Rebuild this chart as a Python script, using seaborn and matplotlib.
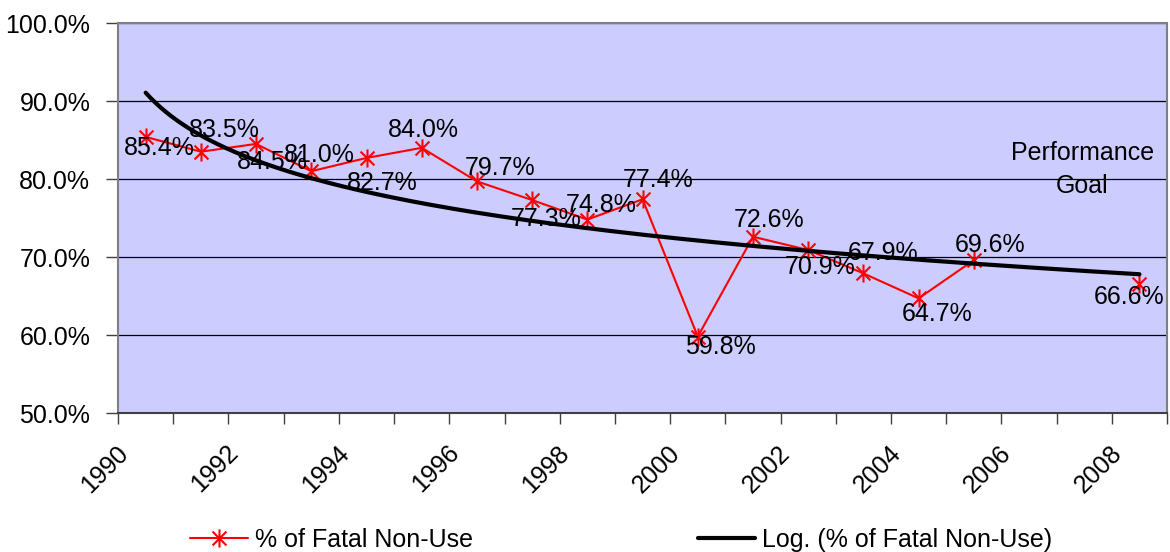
import numpy as np
import pandas as pd
import seaborn as sns
import matplotlib.pyplot as plt
import matplotlib.transforms as mtransforms
from matplotlib.path import Path
from matplotlib.lines import Line2D
from matplotlib.ticker import FixedLocator, PercentFormatter, NullFormatter

# data
years = list(range(1990, 2009))
non_use = [85.4, 83.5, 84.5, 81.0, 82.7, 84.0, 79.7, 77.3, 74.8, 77.4,
           59.8, 72.6, 70.9, 67.9, 64.7, 69.6, None, None, 66.6]
series_name = "% of Fatal Non-Use"
trend_name = "Log. (% of Fatal Non-Use)"
goal_text = "Performance\nGoal"

# where each data label sits relative to its point (pixels, right / down)
label_offsets = [(14, 11), (23, -22), (16, 18), (8, -16), (16, 25), (2, -18),
                 (23, -13), (14, 19), (14, -15), (16, -19), (23, 10), (16, -17),
                 (12, 17), (20, -20), (19, 16), (16, -15), (-10, 13)]

df = pd.DataFrame({"year": years, "pct": non_use})
df["pos"] = np.arange(len(df))
df["seg"] = df["pct"].isna().cumsum()
obs = df.dropna()

# excel style log trendline, x = category number 1..n
b, a = np.polyfit(np.log(obs["pos"] + 1), obs["pct"], 1)
trend = pd.DataFrame({"pos": np.linspace(0, len(years) - 1, 400)})
trend["pct"] = a + b * np.log(trend["pos"] + 1)

sns.set_style("white")
plt.rcParams["font.family"] = ["Liberation Sans", "DejaVu Sans"]
plt.rcParams["text.color"] = "black"
plt.rcParams["xtick.labelcolor"] = "black"
plt.rcParams["ytick.labelcolor"] = "black"
FS = 18

star = Path([(-1, -1), (1, 1), (-1, 1), (1, -1), (0, -1.3), (0, 1.3)],
            [Path.MOVETO, Path.LINETO] * 3)

fig = plt.figure(figsize=(11.7, 5.52), dpi=100)
ax = fig.add_axes([0.1009, 0.2518, 0.8966, 0.7065])
ax.set_facecolor("#CCCCFF")

sns.lineplot(data=obs, x="pos", y="pct", units="seg", estimator=None,
             color="red", lw=1.5, marker=star, ms=13, mew=1.5, mec="red",
             ax=ax, legend=False, zorder=3)
sns.lineplot(data=trend, x="pos", y="pct", color="black", lw=3,
             ax=ax, legend=False, zorder=4)

for (i, r), (dx, dy) in zip(obs.iterrows(), label_offsets):
    ax.annotate(f"{r['pct']:.1f}%", (r["pos"], r["pct"]), xytext=(dx, -dy),
                textcoords="offset pixels", ha="center", va="center",
                fontsize=FS, color="black", zorder=5)

ax.text(0.919, 0.625, goal_text, transform=ax.transAxes, ha="center",
        va="center", fontsize=FS, linespacing=1.5, color="black")

ax.set_xlim(-0.5, len(years) - 0.5)
ax.set_ylim(50, 100)
ax.yaxis.set_major_locator(FixedLocator([50, 60, 70, 80, 90, 100]))
ax.yaxis.set_major_formatter(PercentFormatter(decimals=1))
ax.grid(axis="y", color="black", lw=0.9)
ax.grid(axis="x", visible=False)

ax.xaxis.set_major_locator(FixedLocator(np.arange(-0.5, len(years), 1)))
ax.xaxis.set_major_formatter(NullFormatter())
ax.set_xticks(df["pos"][::2], [str(y) for y in years[::2]], minor=True)
ax.tick_params(axis="x", which="major", direction="out", length=8,
               width=1, color="#404040", bottom=True)
ax.tick_params(axis="x", which="minor", length=0, pad=20, labelsize=FS,
               labelcolor="black")
ax.tick_params(axis="y", direction="out", length=9, width=1,
               color="#404040", pad=11, labelsize=FS, left=True,
               labelcolor="black")
shift = mtransforms.ScaledTranslation(-0.13, 0, fig.dpi_scale_trans)
for lab in ax.get_xticklabels(minor=True):
    lab.set_rotation(45)
    lab.set_ha("right")
    lab.set_va("top")
    lab.set_transform(lab.get_transform() + shift)

ax.set_xlabel("")
ax.set_ylabel("")
for side in ["left", "top", "right"]:
    ax.spines[side].set_color("#808080")
    ax.spines[side].set_linewidth(1.5)
ax.spines["bottom"].set_color("#404040")
ax.spines["bottom"].set_linewidth(1.5)

handles = [Line2D([], [], color="red", lw=1.5, marker=star, ms=13, mew=1.5),
           Line2D([], [], color="black", lw=3)]
leg = fig.legend(handles, [series_name, trend_name], loc="center",
                 bbox_to_anchor=(0.531, 0.022), ncol=2, frameon=False,
                 fontsize=FS, handlelength=2.3, handletextpad=0.28,
                 columnspacing=9.0)
for t in leg.get_texts():
    t.set_color("black")

fig.savefig("out.png", dpi=100)
